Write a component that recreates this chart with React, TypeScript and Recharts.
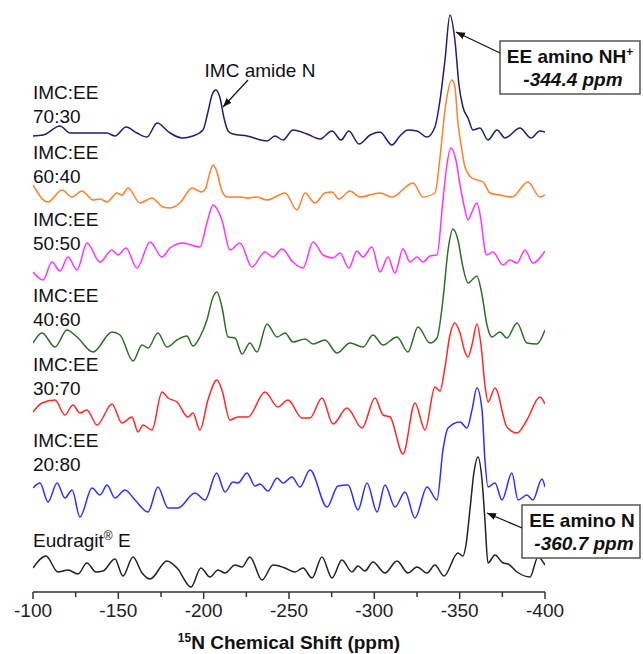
import { LineChart, Line, XAxis, YAxis } from "recharts";

document.body.style.margin = "0";

const FONT = "Arial, 'Liberation Sans', Helvetica, sans-serif";

// ── Spectra: [shift (ppm), intensity above the trace's baseline] ──

const imc7030: [number, number][] = [
  [-100, -1], [-106, 0], [-115.8, 9], [-121.7, 2], [-133, 2], [-143.4, 2], [-148, -1],
  [-154.5, 8], [-160.9, 2], [-166.8, -2], [-172.7, 12], [-180.3, 2], [-187.3, -3],
  [-193.7, -1], [-199.6, 5], [-202.5, 23], [-204.9, 40], [-207.2, 45], [-209.6, 37],
  [-211.9, 17], [-214.3, 4], [-217.2, 1], [-225.4, -1], [-237.1, -6], [-241.8, -1],
  [-246.5, -5], [-252.3, 5], [-260.5, 1], [-268.2, -4], [-275.2, 4], [-280.5, -5],
  [-285.1, 4], [-291, -9], [-297.5, 0], [-303.3, 3], [-310.3, -10], [-315, -1],
  [-319.7, 5], [-325, 4], [-330.9, -2], [-335.5, 8], [-338.5, 35], [-341.4, 75],
  [-344.3, 120], [-347.2, 95], [-349.6, 50], [-351.9, 28], [-354.9, 17], [-357.8, 5],
  [-361.9, 7], [-366.6, -5], [-371.9, 5], [-376.6, -3], [-385.3, 7], [-391.8, -3],
  [-397, 4], [-400, 3],
];

const imc6040: [number, number][] = [
  [-100, 10], [-108.8, -7], [-117, 5], [-122.9, -2], [-128.7, 4], [-135.2, -5],
  [-139.3, -4], [-143.4, -7], [-149.2, 2], [-152.1, 0], [-155.7, 7], [-162.7, -8],
  [-169.7, -3], [-176.2, -12], [-180.3, -13], [-186.1, -8], [-193.2, 7], [-198.8, 3],
  [-201, 6], [-203.1, 19], [-205.5, 30], [-207.8, 23], [-210.1, 7], [-213.7, -2],
  [-221.3, -2], [-226, -3], [-231.2, -2], [-237.1, -5], [-247.7, 2], [-254.7, -15],
  [-259.4, 2], [-265.2, -8], [-271.1, 2], [-275.2, 3], [-279.3, -4], [-285.7, 4],
  [-291.6, -2], [-303.3, 2], [-310.3, -2], [-322.7, 12], [-328.5, -2], [-335.5, 2],
  [-338.5, 38], [-341.4, 85], [-345.5, 115], [-347.2, 108], [-349, 72], [-351.3, 45],
  [-353.1, 28], [-357.2, 17], [-363.7, 13], [-367.8, 2], [-373.6, 0], [-380.6, -2],
  [-390, 13], [-397, -2], [-400, 0],
];

const imc5050: [number, number][] = [
  [-100, -14], [-105.9, -22], [-111.1, -4], [-115.8, -13], [-120.5, 1], [-125.8, -12],
  [-131.6, 15], [-139.3, -4], [-146.3, 8], [-149.8, 3], [-154.5, 10], [-160.9, -10],
  [-168.6, 16], [-175.6, 1], [-180.3, 10], [-187.9, 15], [-197.8, 11], [-201.9, 35],
  [-205.5, 53], [-210.7, 38], [-215.4, 8], [-221.3, 15], [-228.3, -9], [-235.9, 6],
  [-240.6, 1], [-245.9, 9], [-252.3, -4], [-258.2, -10], [-264.1, 16], [-270, 3],
  [-275.8, 0], [-279.9, 5], [-285.1, -10], [-289.8, 7], [-293.4, 1], [-298.6, 11],
  [-303.3, -14], [-308, 1], [-312.1, -15], [-316.8, 9], [-320.9, -4], [-325, 1],
  [-328.5, -4], [-332.6, 2], [-336.7, 3], [-340.2, 58], [-342.5, 93], [-344.9, 110],
  [-347.8, 98], [-350.2, 73], [-352.5, 53], [-354.9, 38], [-357.2, 46], [-360.1, 55],
  [-362.5, 38], [-364.8, 8], [-366, 3], [-369.5, 6], [-375.4, -7], [-379.5, -2],
  [-383.6, -5], [-388.3, 8], [-392.9, -5], [-400, 7],
];

const imc4060: [number, number][] = [
  [-100, -1], [-105.3, 9], [-112.9, -5], [-119.9, 12], [-125.8, 5], [-135.2, -10],
  [-146.3, 10], [-151, 7], [-158.6, -19], [-163.9, -3], [-167.4, -6], [-173.2, 9],
  [-178.5, -5], [-184.4, 2], [-190.2, 6], [-193.7, -4], [-197.8, 5], [-201.9, 22],
  [-205.5, 45], [-207.8, 50], [-210.7, 35], [-214.3, 5], [-218.4, 4], [-222.5, -12],
  [-227.1, -1], [-231.2, -10], [-237.1, 18], [-243, 5], [-247.7, 9], [-252.3, 0],
  [-259.4, 3], [-264.1, -2], [-271.1, 2], [-278.1, -11], [-285.7, -1], [-293.4, -5],
  [-299.2, 7], [-305.1, -3], [-313.3, 5], [-319.7, -10], [-325.6, 15], [-332.6, -1],
  [-336.7, 4], [-340.2, 42], [-343.2, 92], [-346.1, 113], [-349, 102], [-351.9, 75],
  [-354.9, 59], [-357.2, 62], [-360.1, 66], [-363.1, 47], [-366, 17], [-368.9, 5],
  [-373.6, 10], [-377.7, 4], [-383.6, 19], [-389.4, -1], [-395.3, -2], [-400, 12],
];

const imc3070: [number, number][] = [
  [-100, 0], [-105.3, 9], [-112.9, 12], [-118.7, -3], [-123.4, 7], [-127.5, -1],
  [-131.6, 2], [-137.5, -13], [-146.3, 8], [-152.1, -11], [-158, -5], [-161.5, -20],
  [-164.5, -13], [-169.7, -18], [-175.6, 20], [-179.1, 14], [-184.4, 10], [-190.8, -5],
  [-193.7, -1], [-197.8, -18], [-202.5, 12], [-207.8, 32], [-210.7, 22], [-215.4, -8],
  [-220.1, -5], [-226, -5], [-235.9, 20], [-243.5, 5], [-249.4, 12], [-257.6, -6],
  [-262.3, -6], [-269.3, 14], [-275.8, -12], [-284, 4], [-292.8, -16], [-300.4, 14],
  [-305.1, -3], [-309.2, -5], [-316.8, -42], [-323.8, 9], [-329.7, -18], [-335.5, 25],
  [-338.5, 21], [-341.4, 45], [-344.3, 77], [-347.2, 89], [-350.2, 79], [-353.1, 60],
  [-354.9, 55], [-357.2, 67], [-360.1, 88], [-362.5, 67], [-364.8, 27], [-366.6, 10],
  [-370.7, 24], [-377.7, -15], [-383.6, -21], [-389.4, -8], [-397, 15], [-400, 8],
];

const imc2080: [number, number][] = [
  [-100, 2], [-104.1, 7], [-108.8, -12], [-114.1, 7], [-118.7, -8], [-122.9, 0],
  [-127.5, -27], [-134.6, 2], [-139.3, -5], [-143.4, 5], [-148, -8], [-153.9, 0],
  [-159.8, -10], [-167.4, -22], [-173.2, 3], [-179.1, -18], [-185, -18], [-194.9, -3],
  [-200.8, -10], [-207.6, 17], [-212.5, -2], [-217.2, 8], [-220.1, 7], [-225.4, 17],
  [-230.1, 4], [-233, 6], [-237.7, -1], [-243, 12], [-246.5, 7], [-251.8, 13],
  [-256.4, 3], [-262.3, 20], [-272.3, -17], [-278.7, 4], [-284.6, 5], [-290.4, -20],
  [-295.7, 7], [-301.6, -22], [-306.2, 5], [-312.1, -17], [-318, -2], [-323.8, -28],
  [-330.9, 3], [-336.7, -10], [-340.2, 40], [-343.2, 62], [-350.2, 68], [-354.3, 62],
  [-357.2, 80], [-360.1, 102], [-363.1, 80], [-364.8, 30], [-366.6, 3], [-370.7, 7],
  [-374.8, -10], [-380.6, 17], [-384.2, -10], [-389.4, -5], [-392.9, -10], [-398.2, 11],
  [-400, 3],
];

const eudragit: [number, number][] = [
  [-100, 0], [-107.6, 12], [-114.6, -4], [-120.5, -2], [-126.4, -6], [-131.6, 5],
  [-136.9, -4], [-141, -3], [-148, 9], [-152.7, -8], [-158.6, 11], [-163.9, -5],
  [-168.6, -11], [-178.5, 7], [-184.4, 0], [-192.6, -19], [-198.4, 0], [-203.7, -9],
  [-208.4, -2], [-212.5, -5], [-218.4, 3], [-222.5, 1], [-227.1, 11], [-234.2, -12],
  [-240.6, 3], [-247.7, 0], [-253.5, -4], [-258.2, 0], [-263.5, -10], [-269.3, 11],
  [-275.2, -10], [-281, 8], [-286.9, -4], [-290.4, 2], [-294.5, -3], [-299.2, 6],
  [-306.2, -5], [-313.3, 7], [-319.7, -5], [-325, 1], [-330.9, -5], [-335.5, 3],
  [-340.8, -8], [-349, 15], [-351.9, 12], [-353.7, 23], [-356, 58], [-358.4, 96],
  [-360.7, 111], [-363.1, 88], [-364.8, 48], [-366.6, 5], [-370.7, 13], [-375.4, 5],
  [-378.3, 4], [-383.6, -4], [-391.2, -9], [-395.9, 11], [-400, 3],
];

const majorTicks = [-100, -150, -200, -250, -300, -350, -400];
const minorTicks = [-125, -175, -225, -275, -325, -375];

// stacking: each trace drawn on its own baseline
const traces = [
  { key: "7030", pts: imc7030, color: "#1e1e72", base: 457 },
  { key: "6040", pts: imc6040, color: "#ff7f2a", base: 397 },
  { key: "5050", pts: imc5050, color: "#ff33ff", base: 334 },
  { key: "4060", pts: imc4060, color: "#2e6e2a", base: 250 },
  { key: "3070", pts: imc3070, color: "#ff2828", base: 180 },
  { key: "2080", pts: imc2080, color: "#2f2fff", base: 102 },
  { key: "eud", pts: eudragit, color: "#222222", base: 24 },
];

const sampleLabels = [
  { top: "IMC:EE", bottom: "70:30", y: 99 },
  { top: "IMC:EE", bottom: "60:40", y: 159 },
  { top: "IMC:EE", bottom: "50:50", y: 226 },
  { top: "IMC:EE", bottom: "40:60", y: 302 },
  { top: "IMC:EE", bottom: "30:70", y: 371 },
  { top: "IMC:EE", bottom: "20:80", y: 447 },
];

function ShiftTick({ x, y, payload }: any) {
  const major = payload.value % 50 === 0;
  return (
    <g>
      <line x1={x} x2={x} y1={y} y2={y + (major ? 7 : 5)} stroke="#333" strokeWidth={1.5} />
      {major && (
        <text x={x} y={y + 25} textAnchor="middle" fontSize={19} fill="#222" fontFamily={FONT}>
          {payload.value}
        </text>
      )}
    </g>
  );
}

export default function App() {
  return (
    <div style={{ position: "relative", width: 643, height: 654, background: "#fff", fontFamily: FONT }}>
      <LineChart width={643} height={654} margin={{ top: 10, right: 98, left: 33, bottom: 0 }}>
        <XAxis
          type="number"
          dataKey="ppm"
          domain={[-400, -100]}
          reversed
          allowDataOverflow
          ticks={[...majorTicks, ...minorTicks].sort((a, b) => b - a)}
          interval={0}
          tick={<ShiftTick />}
          tickLine={false}
          tickSize={0}
          tickMargin={0}
          height={62}
          axisLine={{ stroke: "#333", strokeWidth: 1.5 }}
        />
        <YAxis type="number" hide domain={[0, 582]} allowDataOverflow />
        {traces.map(t => (
          <Line
            key={t.key}
            data={t.pts.map(([ppm, v]) => ({ ppm, v: t.base + v }))}
            dataKey="v"
            type="monotone"
            stroke={t.color}
            strokeWidth={1.5}
            dot={false}
            activeDot={false}
            isAnimationActive={false}
          />
        ))}
      </LineChart>

      {/* labels, annotations, axis title */}
      <svg width={643} height={654} style={{ position: "absolute", left: 0, top: 0, pointerEvents: "none" }}>
        <defs>
          <marker id="ah" markerWidth={10} markerHeight={8} refX={9} refY={3.5} orient="auto" markerUnits="userSpaceOnUse">
            <path d="M0,0 L9,3.5 L0,7 z" fill="#111" />
          </marker>
        </defs>

        {sampleLabels.map(l => (
          <text key={l.bottom} x={33} y={l.y} fontSize={19} fill="#111" fontFamily={FONT}>
            <tspan x={33}>{l.top}</tspan>
            <tspan x={33} dy={24}>{l.bottom}</tspan>
          </text>
        ))}
        <text x={33} y={547} fontSize={19} fill="#111" fontFamily={FONT}>
          Eudragit<tspan fontSize={12} dy={-7}>®</tspan><tspan dy={7}> E</tspan>
        </text>

        <text x={260} y={77} fontSize={19} fill="#111" textAnchor="middle" fontFamily={FONT}>IMC amide N</text>
        <line x1={248} y1={80} x2={223} y2={107} stroke="#111" strokeWidth={1.2} markerEnd="url(#ah)" />

        <rect x={500} y={41} width={140} height={53} fill="#fff" stroke="#555" strokeWidth={1.5} />
        <text x={570} y={63} fontSize={19} fontWeight="bold" fill="#111" textAnchor="middle" fontFamily={FONT}>
          EE amino NH<tspan fontSize={12} dy={-7}>+</tspan>
        </text>
        <text x={573} y={86} fontSize={19} fontWeight="bold" fontStyle="italic" fill="#111" textAnchor="middle" fontFamily={FONT}>
          -344.4 ppm
        </text>
        <line x1={500} y1={53} x2={456} y2={32} stroke="#111" strokeWidth={1.2} markerEnd="url(#ah)" />

        <rect x={522} y={505} width={118} height={53} fill="#fff" stroke="#555" strokeWidth={1.5} />
        <text x={582} y={527} fontSize={19} fontWeight="bold" fill="#111" textAnchor="middle" fontFamily={FONT}>
          EE amino N
        </text>
        <text x={584} y={550} fontSize={19} fontWeight="bold" fontStyle="italic" fill="#111" textAnchor="middle" fontFamily={FONT}>
          -360.7 ppm
        </text>
        <line x1={522} y1={528} x2={487} y2={513} stroke="#111" strokeWidth={1.2} markerEnd="url(#ah)" />

        <text x={289} y={649} fontSize={19} fontWeight="bold" fill="#111" textAnchor="middle" fontFamily={FONT}>
          <tspan fontSize={12} dy={-7}>15</tspan>
          <tspan dy={7}>N Chemical Shift (ppm)</tspan>
        </text>
      </svg>
    </div>
  );
}
